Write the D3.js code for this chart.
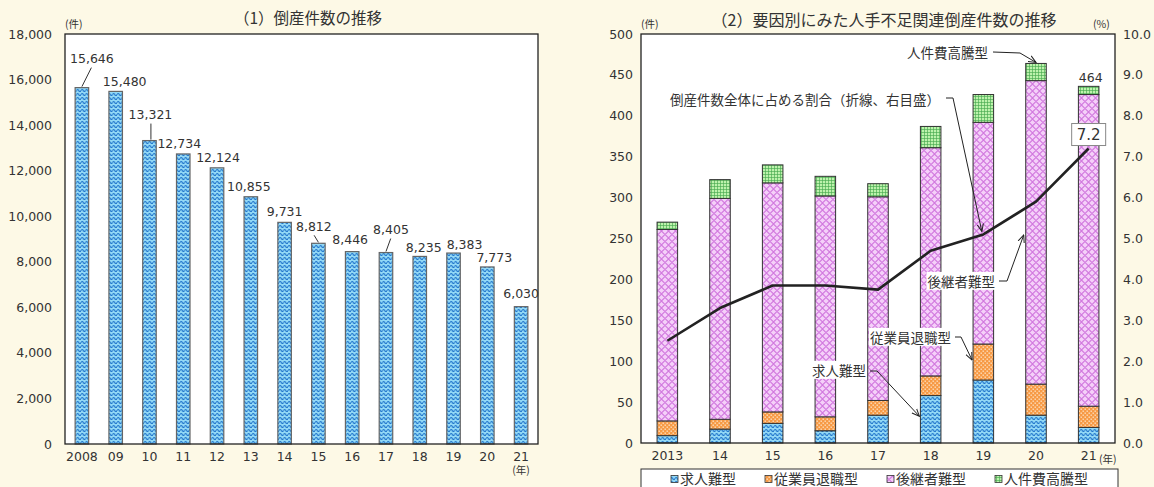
<!DOCTYPE html>
<html>
<head>
<meta charset="utf-8">
<script src="https://cdn.jsdelivr.net/npm/d3@7"></script>
<style>
  body { margin: 0; background: #fdf9e6; }
  svg { display: block; }
  text { font-family: "DejaVu Sans", sans-serif; fill: #333; }
  .jp { font-family: "Noto Sans CJK JP", sans-serif; }
</style>
</head>
<body>
<div id="chart"></div>
<script>
// (1) 倒産件数
const years1 = ['2008', '09', '10', '11', '12', '13', '14', '15', '16', '17', '18', '19', '20', '21'];
const counts1 = [15646, 15480, 13321, 12734, 12124, 10855, 9731, 8812, 8446, 8405, 8235, 8383, 7773, 6030];
const ticks1 = [0, 2000, 4000, 6000, 8000, 10000, 12000, 14000, 16000, 18000];

// (2) 人手不足関連倒産
const years2 = ['2013', '14', '15', '16', '17', '18', '19', '20', '21'];
const kyujin = [9, 17, 24, 15, 34, 58, 77, 34, 19];
const taishoku = [18, 12, 14, 17, 18, 24, 44, 38, 26];
const koukeisha = [234, 270, 280, 270, 249, 279, 271, 371, 381];
const jinkenhi = [9, 23, 22, 24, 16, 26, 34, 21, 10];
const ratio = [2.5, 3.3, 3.85, 3.85, 3.75, 4.7, 5.1, 5.9, 7.2];
const seriesNames = ['求人難型', '従業員退職型', '後継者難型', '人件費高騰型'];
const ticks2 = [0, 50, 100, 150, 200, 250, 300, 350, 400, 450, 500];
const ticksR = [0, 1, 2, 3, 4, 5, 6, 7, 8, 9, 10];

const W = 1154, H = 487;
const svg = d3.select('#chart').append('svg').attr('width', W).attr('height', H);
const defs = svg.append('defs');

// patterns
const pWave = defs.append('pattern').attr('id', 'wave').attr('patternUnits', 'userSpaceOnUse')
  .attr('width', 4.5).attr('height', 4);
pWave.append('rect').attr('width', 4.5).attr('height', 4).attr('fill', '#92d8f6');
pWave.append('path').attr('d', 'M0,2.6 Q1.125,0.4 2.25,2.6 T4.5,2.6')
  .attr('fill', 'none').attr('stroke', '#1a6fc8').attr('stroke-width', 1);

const pDot = defs.append('pattern').attr('id', 'dots').attr('patternUnits', 'userSpaceOnUse')
  .attr('width', 4).attr('height', 4);
pDot.append('rect').attr('width', 4).attr('height', 4).attr('fill', '#f79a45');
pDot.append('rect').attr('x', 0.5).attr('y', 0.5).attr('width', 1.4).attr('height', 1.4).attr('fill', '#fde0c0');
pDot.append('rect').attr('x', 2.5).attr('y', 2.5).attr('width', 1.4).attr('height', 1.4).attr('fill', '#fde0c0');

const pDia = defs.append('pattern').attr('id', 'diamond').attr('patternUnits', 'userSpaceOnUse')
  .attr('width', 7).attr('height', 7);
pDia.append('rect').attr('width', 7).attr('height', 7).attr('fill', '#f5d0f9');
pDia.append('path').attr('d', 'M0,3.5 L3.5,0 L7,3.5 L3.5,7 Z')
  .attr('fill', 'none').attr('stroke', '#d27adf').attr('stroke-width', 1.1);

const pGrid = defs.append('pattern').attr('id', 'grid').attr('patternUnits', 'userSpaceOnUse')
  .attr('width', 3).attr('height', 3);
pGrid.append('rect').attr('width', 3).attr('height', 3).attr('fill', '#bdf2ac');
pGrid.append('path').attr('d', 'M0,0.4 H3 M0.4,0 V3')
  .attr('stroke', '#45a84c').attr('stroke-width', 0.7);

const fills = { '求人難型': 'url(#wave)', '従業員退職型': 'url(#dots)', '後継者難型': 'url(#diamond)', '人件費高騰型': 'url(#grid)' };

defs.append('marker').attr('id', 'arr').attr('viewBox', '0 0 8 8')
  .attr('refX', 7.5).attr('refY', 4).attr('markerWidth', 8).attr('markerHeight', 8)
  .attr('markerUnits', 'userSpaceOnUse').attr('orient', 'auto')
  .append('path').attr('d', 'M0,0.8 L7.5,4 L0,7.2').attr('fill', 'none')
  .attr('stroke', '#222').attr('stroke-width', 1);

// ---------- chart 1 ----------
const p1 = { l: 65, r: 538, t: 34, b: 444 };
const x1 = d3.scaleBand().domain(years1).range([p1.l, p1.r]).paddingInner(0.6).paddingOuter(0.3);
const y1 = d3.scaleLinear().domain([0, 18000]).range([p1.b, p1.t]);

svg.append('rect').attr('x', p1.l).attr('y', p1.t).attr('width', p1.r - p1.l).attr('height', p1.b - p1.t)
  .attr('fill', '#fff');

svg.append('g').selectAll('rect').data(counts1).join('rect')
  .attr('x', (d, i) => x1(years1[i]))
  .attr('y', d => y1(d))
  .attr('width', x1.bandwidth())
  .attr('height', d => y1(0) - y1(d))
  .attr('fill', 'url(#wave)')
  .attr('stroke', '#666').attr('stroke-width', 1.2);

svg.append('rect').attr('x', p1.l).attr('y', p1.t).attr('width', p1.r - p1.l).attr('height', p1.b - p1.t)
  .attr('fill', 'none').attr('stroke', '#222').attr('stroke-width', 1.3);

const ax1 = svg.append('g').attr('transform', `translate(${p1.l},0)`)
  .call(d3.axisLeft(y1).tickValues(ticks1).tickFormat(d3.format(',')).tickSize(0).tickPadding(13));
ax1.select('.domain').remove();
ax1.attr('font-size', 12.5);

const bx1 = svg.append('g').attr('transform', `translate(0,${p1.b})`)
  .call(d3.axisBottom(x1).tickSize(0).tickPadding(8));
bx1.select('.domain').remove();
bx1.attr('font-size', 12.5);

// value labels: [dx, dy, leader]
const lab1 = [[10, -29, 1], [9, -10, 0], [1, -26, 1], [-4, -10, 0], [1, -10, 0], [-2, -10, 0], [0, -11, 0],
  [-4.5, -17, 1], [-2, -12, 0], [5, -23, 1], [4, -9, 0], [11, -9, 0], [7, -9, 0], [0, -13, 0]];
const g1 = svg.append('g');
counts1.forEach((d, i) => {
  const cx = x1(years1[i]) + x1.bandwidth() / 2, ty = y1(d);
  const [dx, dy, ld] = lab1[i];
  g1.append('text').attr('x', cx + dx).attr('y', ty + dy).attr('dy', '0.36em')
    .attr('text-anchor', 'middle').attr('font-size', 12.5).text(d3.format(',')(d));
  if (ld) {
    g1.append('line').attr('x1', cx + dx * 0.95 + (i === 2 ? 0.5 : 0)).attr('y1', ty + dy + 9)
      .attr('x2', i === 2 ? cx + dx * 0.95 + 0.5 : cx).attr('y2', ty - 1)
      .attr('stroke', '#333').attr('stroke-width', 1);
  }
});

svg.append('text').attr('class', 'jp').attr('x', 308).attr('y', 18).attr('dy', '0.36em')
  .attr('text-anchor', 'middle').attr('font-size', 15.5).text('（1）倒産件数の推移');
svg.append('text').attr('class', 'jp').attr('x', p1.l).attr('y', 24).attr('dy', '0.36em')
  .attr('font-size', 10.5).text('(件)');
svg.append('text').attr('class', 'jp').attr('x', x1('21') + x1.bandwidth() / 2).attr('y', 470).attr('dy', '0.36em')
  .attr('text-anchor', 'middle').attr('font-size', 10.5).text('(年)');

// ---------- chart 2 ----------
const p2 = { l: 641, r: 1115, t: 34, b: 443 };
const x2 = d3.scaleBand().domain(years2).range([p2.l, p2.r]).paddingInner(0.61).paddingOuter(0.305);
const y2 = d3.scaleLinear().domain([0, 500]).range([p2.b, p2.t]);
const yR = d3.scaleLinear().domain([0, 10]).range([p2.b, p2.t]);

svg.append('rect').attr('x', p2.l).attr('y', p2.t).attr('width', p2.r - p2.l).attr('height', p2.b - p2.t)
  .attr('fill', '#fff');

const table = years2.map((y, i) => ({
  year: y, '求人難型': kyujin[i], '従業員退職型': taishoku[i], '後継者難型': koukeisha[i], '人件費高騰型': jinkenhi[i]
}));
const stacked = d3.stack().keys(seriesNames)(table);

svg.append('g').selectAll('g').data(stacked).join('g')
  .attr('fill', s => fills[s.key])
  .selectAll('rect').data(s => s).join('rect')
  .attr('x', d => x2(d.data.year))
  .attr('y', d => y2(d[1]))
  .attr('width', x2.bandwidth())
  .attr('height', d => y2(d[0]) - y2(d[1]))
  .attr('stroke', '#333').attr('stroke-width', 1);

svg.append('rect').attr('x', p2.l).attr('y', p2.t).attr('width', p2.r - p2.l).attr('height', p2.b - p2.t)
  .attr('fill', 'none').attr('stroke', '#222').attr('stroke-width', 1.3);

const line = d3.line().x((d, i) => x2(years2[i]) + x2.bandwidth() / 2).y(d => yR(d));
svg.append('path').datum(ratio).attr('d', line)
  .attr('fill', 'none').attr('stroke', '#222').attr('stroke-width', 2.6).attr('stroke-linejoin', 'round');

const ax2 = svg.append('g').attr('transform', `translate(${p2.l},0)`)
  .call(d3.axisLeft(y2).tickValues(ticks2).tickSize(0).tickPadding(8));
ax2.select('.domain').remove();
ax2.attr('font-size', 12.5);

const axR = svg.append('g').attr('transform', `translate(${p2.r},0)`)
  .call(d3.axisRight(yR).tickValues(ticksR).tickFormat(d3.format('.1f')).tickSize(0).tickPadding(8));
axR.select('.domain').remove();
axR.attr('font-size', 12.5);

const bx2 = svg.append('g').attr('transform', `translate(0,${p2.b})`)
  .call(d3.axisBottom(x2).tickSize(0).tickPadding(8));
bx2.select('.domain').remove();
bx2.attr('font-size', 12.5);

svg.append('text').attr('class', 'jp').attr('x', 884).attr('y', 20).attr('dy', '0.36em')
  .attr('text-anchor', 'middle').attr('font-size', 16).text('（2）要因別にみた人手不足関連倒産件数の推移');
svg.append('text').attr('class', 'jp').attr('x', p2.l).attr('y', 24).attr('dy', '0.36em')
  .attr('font-size', 10.5).text('(件)');
svg.append('text').attr('class', 'jp').attr('x', 1093).attr('y', 24).attr('dy', '0.36em')
  .attr('font-size', 10.5).text('(%)');
svg.append('text').attr('class', 'jp').attr('x', 1099).attr('y', 459).attr('dy', '0.36em')
  .attr('font-size', 10.5).text('(年)');

// total label 2020 and ratio box 2021
const cx2 = yr => x2(yr) + x2.bandwidth() / 2;
const total = i => kyujin[i] + taishoku[i] + koukeisha[i] + jinkenhi[i];
svg.append('text').attr('x', cx2('21') + 2).attr('y', y2(total(7)) + 14).attr('dy', '0.36em')
  .attr('text-anchor', 'middle').attr('font-size', 12.5).text(total(7));
const boxG = svg.append('g');
boxG.append('rect').attr('x', cx2('21') - 17).attr('y', yR(ratio[8]) - 25).attr('width', 34).attr('height', 22)
  .attr('fill', '#fff').attr('stroke', '#888').attr('stroke-width', 1);
boxG.append('text').attr('x', cx2('21')).attr('y', yR(ratio[8]) - 14).attr('dy', '0.36em')
  .attr('text-anchor', 'middle').attr('font-size', 15).text(ratio[8].toFixed(1));

// annotations
const ann = svg.append('g');
function note(txt, tx, ty, pts, bg) {
  const t = ann.append('text').attr('class', 'jp').attr('x', tx).attr('y', ty).attr('dy', '0.36em')
    .attr('text-anchor', 'end').attr('font-size', 13.5).text(txt);
  if (bg) {
    const b = t.node().getBBox();
    ann.insert('rect', () => t.node()).attr('x', b.x - 1).attr('y', b.y + 1).attr('width', b.width + 2)
      .attr('height', b.height - 2).attr('fill', '#fff');
  }
  ann.append('path').attr('d', d3.line()(pts)).attr('fill', 'none')
    .attr('stroke', '#222').attr('stroke-width', 1).attr('marker-end', 'url(#arr)');
}
const seg = (k, i) => y2(stacked[k][i][0] + (stacked[k][i][1] - stacked[k][i][0]) / 2);
note('人件費高騰型', 988, 53, [[993, 52], [1020, 53], [cx2('20'), y2(total(7)) - 1]], false);
note('倒産件数全体に占める割合（折線、右目盛）', 940, 100, [[946, 98], [953, 98], [cx2('19') - 1.5, yR(ratio[6]) - 3]], false);
note('後継者難型', 995, 282, [[999, 281], [1007, 281], [x2('20') - 2, 235]], true);
note('従業員退職型', 951, 338, [[955, 337], [961, 337], [x2('19') - 1, seg(1, 6) - 2]], true);
note('求人難型', 866, 371, [[870, 371], [877, 371], [x2('18') - 1, seg(0, 5) - 3]], true);

// legend
const lg = svg.append('g');
lg.append('rect').attr('x', 641).attr('y', 469).attr('width', 477).attr('height', 30)
  .attr('fill', '#fff').attr('stroke', '#333').attr('stroke-width', 1);
let lx = 671;
seriesNames.forEach(k => {
  lg.append('rect').attr('x', lx).attr('y', 475.5).attr('width', 7).attr('height', 7)
    .attr('fill', fills[k]).attr('stroke', '#333').attr('stroke-width', 0.8);
  const t = lg.append('text').attr('class', 'jp').attr('x', lx + 9).attr('y', 478.5).attr('dy', '0.36em')
    .attr('font-size', 14).text(k);
  lx += 9 + t.node().getComputedTextLength() + 29;
});
</script>
</body>
</html>
